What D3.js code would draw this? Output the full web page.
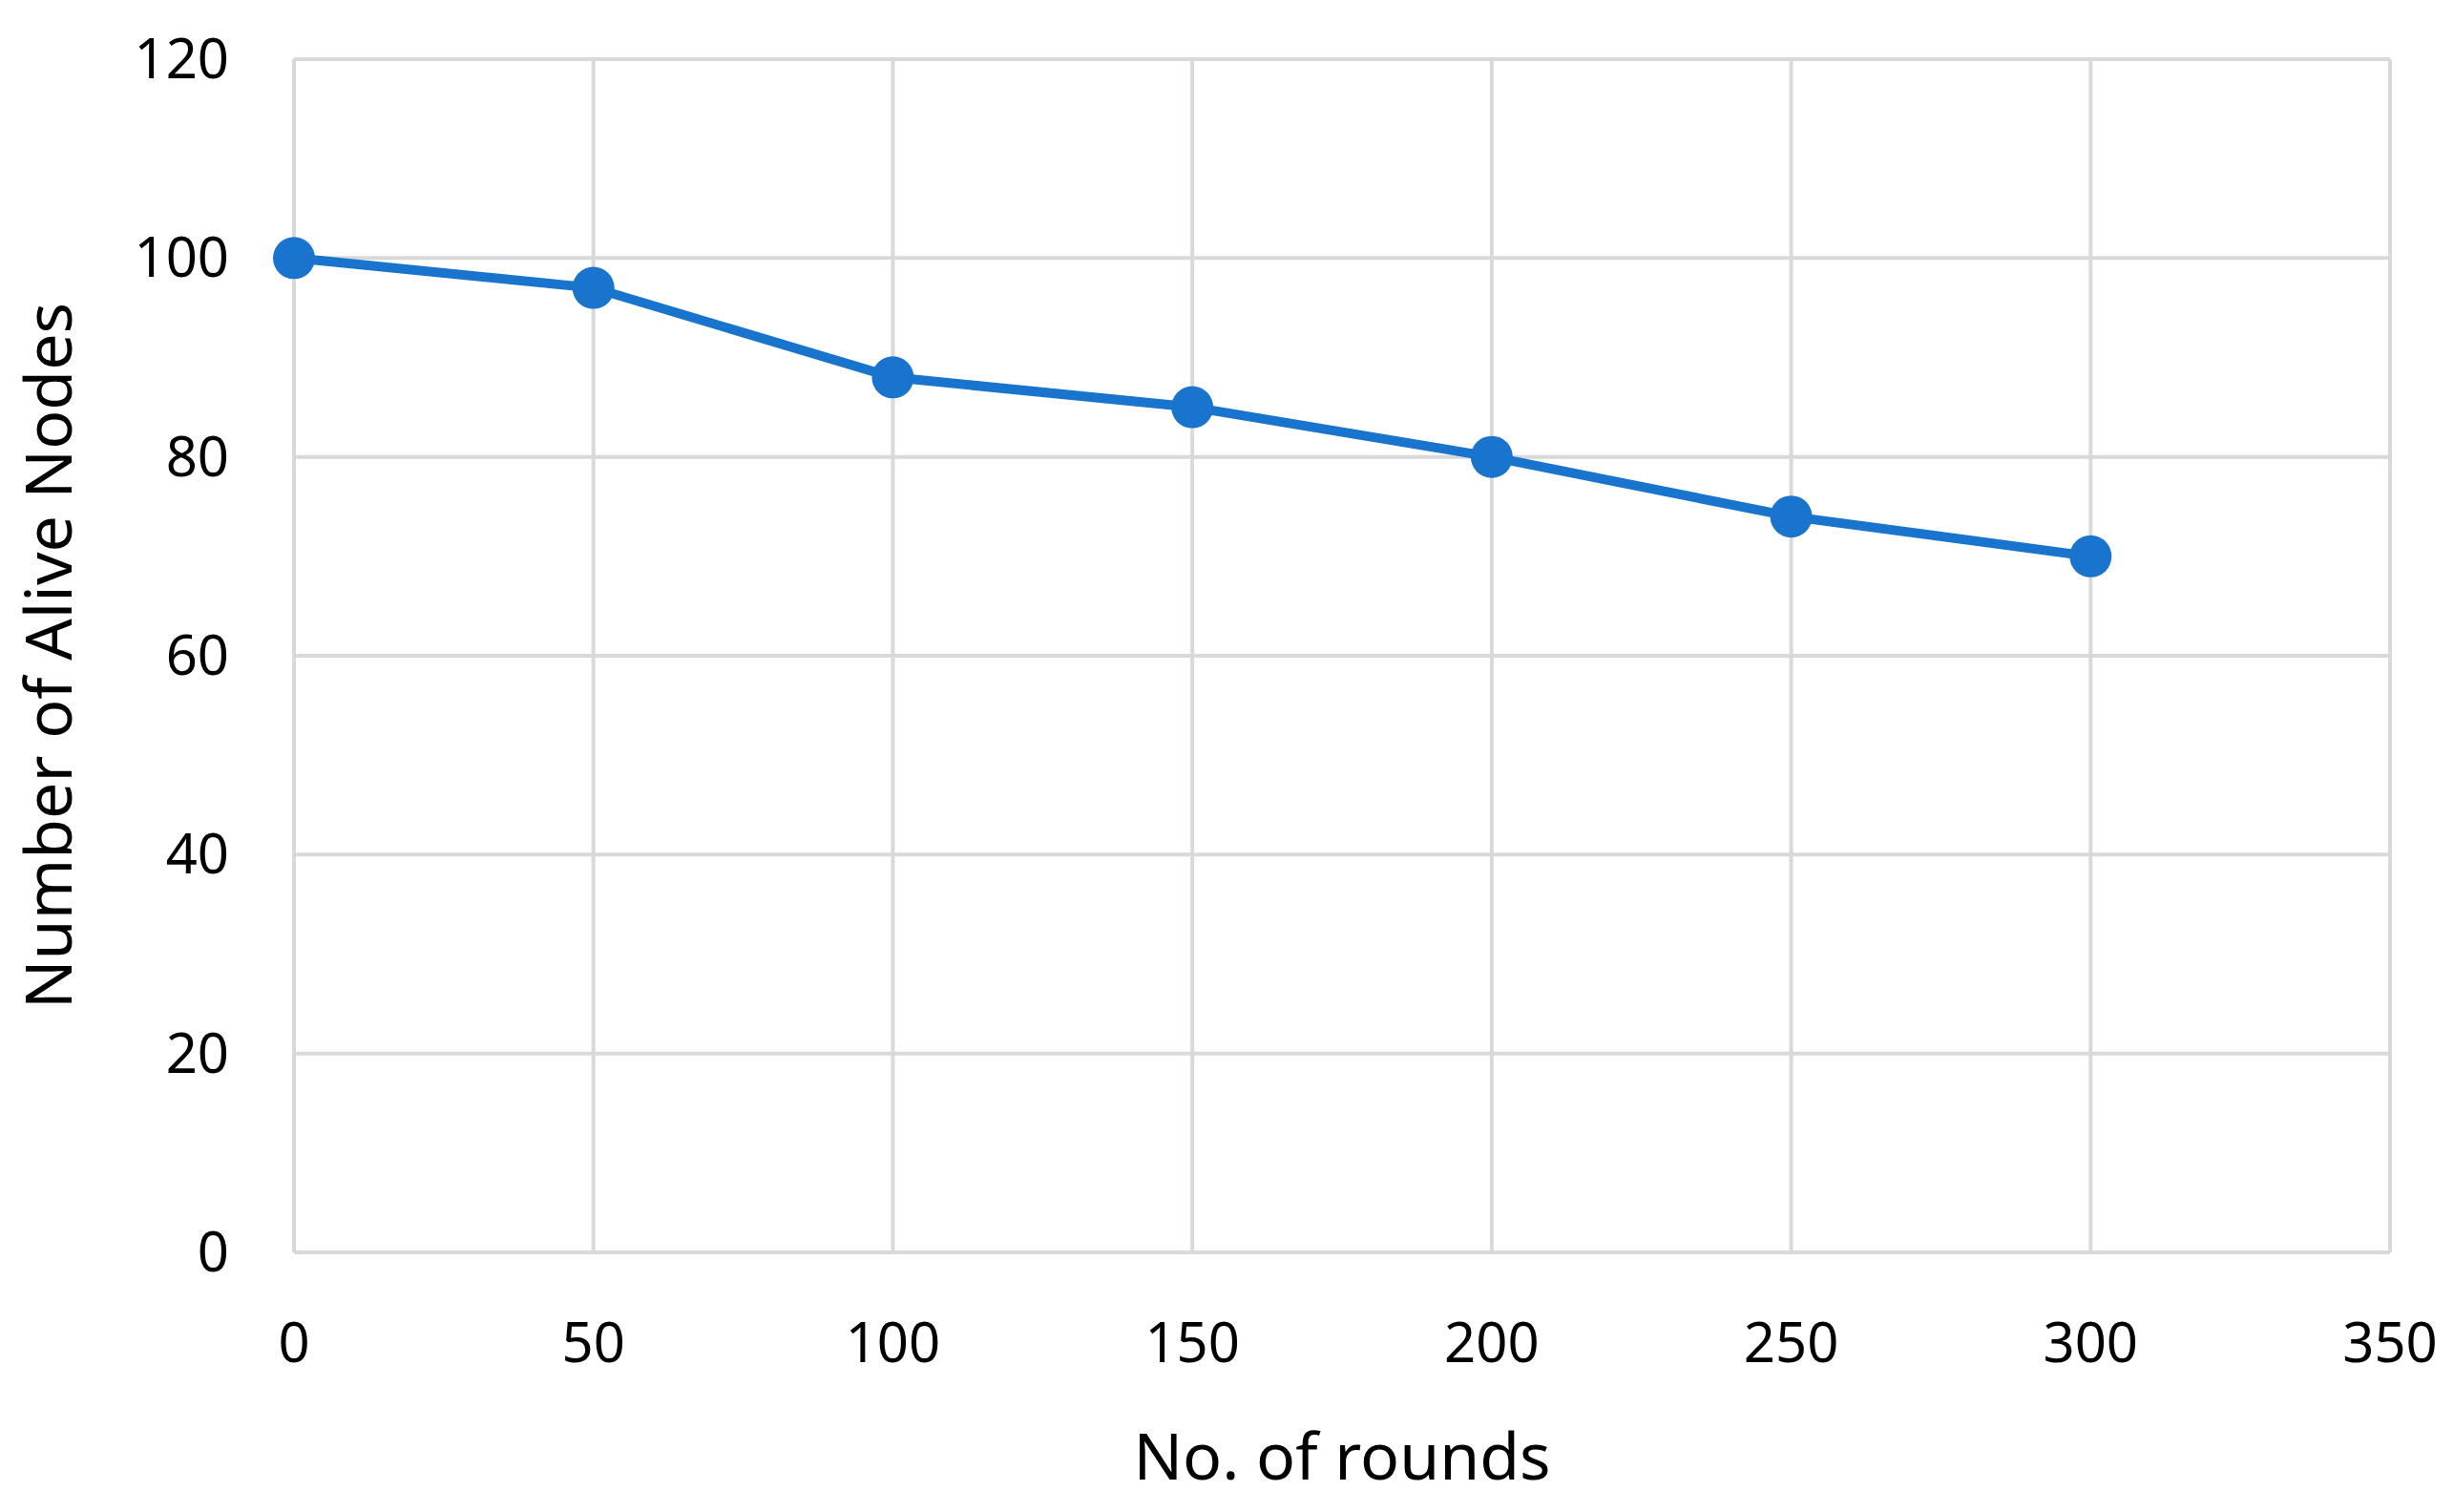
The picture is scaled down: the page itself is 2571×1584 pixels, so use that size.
<!DOCTYPE html>
<html>
<head>
<meta charset="utf-8">
<script src="https://cdn.jsdelivr.net/npm/d3@7"></script>
<style>
  body { margin: 0; background: #fff; }
  text { font-family: "Noto Sans", "Open Sans", sans-serif; fill: #000; }
</style>
</head>
<body>
<svg id="chart" width="2571" height="1584"></svg>
<script>
const rounds = [0, 50, 100, 150, 200, 250, 300];
const aliveNodes = [100, 97, 88, 85, 80, 74, 70];
const xTicks = [0, 50, 100, 150, 200, 250, 300, 350];
const yTicks = [0, 20, 40, 60, 80, 100, 120];

const svg = d3.select('#chart');
const margin = { left: 308, right: 67, top: 62, bottom: 272 };
const width = 2571, height = 1584;

const xScale = d3.scaleLinear().domain([0, 350]).range([margin.left, width - margin.right]);
const yScale = d3.scaleLinear().domain([0, 120]).range([height - margin.bottom, margin.top]);

// gridlines
svg.selectAll('.vgrid').data(xTicks).enter().append('line')
  .attr('x1', d => xScale(d)).attr('x2', d => xScale(d))
  .attr('y1', yScale(0)).attr('y2', yScale(120))
  .attr('stroke', '#d9d9d9').attr('stroke-width', 4);
svg.selectAll('.hgrid').data(yTicks).enter().append('line')
  .attr('x1', xScale(0)).attr('x2', xScale(350))
  .attr('y1', d => yScale(d)).attr('y2', d => yScale(d))
  .attr('stroke', '#d9d9d9').attr('stroke-width', 4);

// tick labels
svg.selectAll('.xt').data(xTicks).enter().append('text')
  .attr('x', d => xScale(d)).attr('y', yScale(0) + 115)
  .attr('text-anchor', 'middle').attr('font-size', 58).text(d => d);
svg.selectAll('.yt').data(yTicks).enter().append('text')
  .attr('x', xScale(0) - 68).attr('y', d => yScale(d) + 20)
  .attr('text-anchor', 'end').attr('font-size', 58).text(d => d);

// axis titles
svg.append('text').attr('x', (xScale(0) + xScale(350)) / 2).attr('y', 1550)
  .attr('text-anchor', 'middle').attr('font-size', 68).text('No. of rounds');
svg.append('text')
  .attr('transform', `translate(75,${(yScale(0) + yScale(120)) / 2}) rotate(-90)`)
  .attr('text-anchor', 'middle').attr('font-size', 68).text('Number of Alive Nodes');

const data = rounds.map((r, i) => ({ x: r, y: aliveNodes[i] }));
const line = d3.line().x(d => xScale(d.x)).y(d => yScale(d.y));
svg.append('path').datum(data).attr('d', line)
  .attr('fill', 'none').attr('stroke', '#1874CD').attr('stroke-width', 10);
svg.selectAll('.pt').data(data).enter().append('circle')
  .attr('cx', d => xScale(d.x)).attr('cy', d => yScale(d.y))
  .attr('r', 22).attr('fill', '#1874CD');
</script>
</body>
</html>
